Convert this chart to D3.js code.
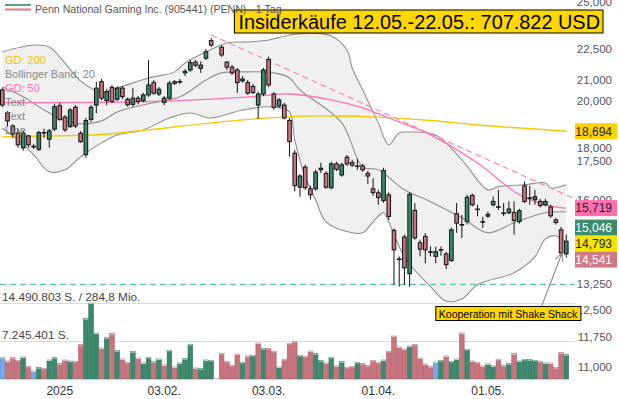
<!DOCTYPE html>
<html><head><meta charset="utf-8">
<script src="https://cdn.jsdelivr.net/npm/d3@7"></script>
<style>
html,body{margin:0;padding:0;background:#fff;}
svg{display:block;font-family:"Liberation Sans",Arial,sans-serif;}
</style></head><body>
<div id="chart"></div>
<script>
// penn national gaming, tageskerzen dez 2024 - 22.05.2025, log-skala, bollinger + GD 50/200 + volumen

// kurse pro handelstag (index 0 = 16.12.2024), null = feiertag
var opens = [20520,19480,18920,18620,18010,18500,18070,17950,18630,18360,
  18780,19800,19300,18890,19730,18610,17730,19200,19830,20900,
  20030,20640,20090,20600,20090,19860,20140,20030,20290,20860,
  20330,19950,20140,20900,20900,21320,21460,21840,21540,22040,
  22930,null,22590,21840,21600,21460,20940,20860,20680,19830,
  20330,21980,20330,19790,19830,19150,17790,16480,17240,16420,
  16420,17140,17000,16460,17370,16940,17630,17420,17290,17290,
  17000,16420,16270,15990,16200,14950,14020,14730,13560,15640,
  14540,14750,14250,14100,14320,14180,13970,15520,15150,15250,
  16180,15690,15250,15440,15840,15770,15550,15560,15570,15250,
  16530,16090,16020,15960,15840,15760,15310,14970,14180];
var highs = [20620,19560,18990,18790,18710,18540,18170,18710,18800,18790,
  19890,19930,19390,19700,19830,18700,19260,19830,20900,21030,
  20560,20740,20690,20700,20170,20600,20240,20380,21950,20980,
  20650,20240,20940,20980,21030,21510,21950,21950,21880,22500,
  23060,null,22700,21900,21700,21560,21170,20980,20800,20420,
  21560,22110,20420,20150,19930,19260,17920,16980,17330,16530,
  17140,17420,17090,17450,17450,17410,17720,17530,17560,17370,
  17090,16820,16380,17220,16290,15020,14100,14810,16290,15900,
  14640,14860,14420,14410,14420,14250,15040,15900,15480,16200,
  16240,15840,15420,15600,16140,16380,15900,15960,15960,15700,
  16690,16530,16380,16050,16050,15840,15380,15070,14810];
var lows = [19740,18900,18420,18010,17890,18010,17960,17880,18420,18010,
  18700,19140,18670,18830,18830,18210,17610,19080,19470,20050,
  19830,19920,20000,20100,19760,19760,19860,19950,20200,20290,
  20240,19830,20060,20750,20790,21170,21370,21600,21320,21950,
  22600,null,22100,21460,21220,20380,20860,20290,20330,19220,
  20240,20650,19610,19700,19200,17660,16320,16130,16380,16020,
  16350,17010,16420,16400,17090,16870,17290,17250,17140,17060,
  16600,16160,15840,15910,15310,13230,13170,13230,13170,14640,
  14100,13880,14100,13880,14120,13700,13930,14870,14700,15150,
  15780,15430,15030,15380,15780,15660,15440,15500,14810,15180,
  15900,15840,15840,15740,15780,15380,15150,14120,14060];
var closes = [19830,19135,18580,18130,18620,18130,18060,18640,18640,18710,
  19760,19200,18750,19610,18920,18260,19150,19730,20600,20140,
  20440,19990,20600,20210,19840,20140,19990,20290,20750,20370,
  20550,20140,20830,20830,20910,21390,21820,21690,21700,22360,
  22700,null,22200,21600,21320,20860,21030,20370,20400,20330,
  21460,20750,19730,20060,19260,18260,16540,16900,16460,16200,
  17050,17200,16480,17370,17160,17330,17370,17320,17280,17140,
  16900,16280,16100,17110,15430,14310,14010,13740,16220,14700,
  14330,14310,14240,14250,14310,13840,14970,15200,15130,16110,
  15840,15680,15240,15500,15960,15760,15540,15690,15290,15630,
  15960,16080,16130,15810,15960,15450,15220,14210,14590];

// volumen in mio. stueck, farbe: g=hoch, r=runter, b=unveraendert, n=feiertag
var volumes = [4.13,3.43,4.06,3.56,4.19,2.41,1.52,2.16,2.03,3.62,
  4.06,2.92,3.62,3.43,3.37,6.54,11.5,14.490803,8.76,5.9,
  7.87,8.64,5.4,3.81,3.18,5.21,4.0,3.05,4.13,3.3,
  3.81,2.67,5.46,2.29,3.05,3.87,6.6,2.1,1.97,3.62,
  3.56,0.15,4.89,3.37,2.6,4.76,3.18,4.38,4.51,6.86,
  5.78,5.84,5.27,2.29,3.75,6.8,7.18,4.51,4.32,5.33,
  4.83,3.49,3.05,4.13,2.48,3.3,2.22,2.41,3.18,2.92,
  2.54,3.56,3.18,3.62,5.27,8.19,6.1,5.72,6.29,6.6,
  4.0,2.86,2.35,3.24,3.56,4.38,3.37,3.81,8.76,5.65,
  3.43,3.18,2.48,2.86,2.48,3.75,2.54,2.92,4.83,3.43,
  3.75,3.68,3.56,3.37,3.05,3.05,2.16,5.02,4.64];
var volColors = ("brrrgrbgrg" + "grrgrrgggr" + "grgrrgrggr" + "grgrgggrgg" + "gnrrrrgrgr" +
  "grrgrrrgrr" + "ggrgrgrrgr" + "rrrgrrrrgr" + "rrrbgrggrg" + "rrrggrrgrg" + "gggrgrrrg").split("");

var bbUpper = [[0,22350],[6,22700],[9,22600],[12,21800],[15,20930],[19,20420],[22,20610],[28,21080],
  [33,21370],[35,21800],[39,22350],[43,22810],[47,22860],[51,22960],[55,23220],[59,23320],[63,23170],
  [66,22450],[67,21560],[69,20520],[72,19050],[74,18130],[76,18620],[78,18660],[83,18540],[88,17530],
  [93,16380],[95,16500],[100,16570],[104,16640],[105,16450],[108,16570]];
var bbMid = [[0,20650],[4,20200],[8,19613],[12,19135],[15,19010],[19,19135],[22,19520],[27,19840],
  [34,20200],[39,20984],[42,21320],[46,21370],[52,21320],[55,21080],[57,20520],[65,19050],[69,17250],
  [72,17136],[77,16382],[82,15950],[88,15380],[93,14870],[98,15210],[104,15560],[108,15590]];
var bbLower = [[0,18830],[3,18333],[6,17730],[9,17060],[12,17136],[15,17650],[19,18210],[22,18540],
  [27,18750],[32,19260],[36,19480],[40,19260],[46,19613],[52,19745],[55,19520],[56,18333],[58,16870],
  [60,16018],[62,15240],[67,14870],[69,14870],[71,15240],[73,15560],[74,15240],[77,14090],[82,13170],
  [85,12750],[88,12810],[91,13230],[98,13590],[102,14090],[104,14670],[106,14770],[108,14540]];
var gd50 = [[0,19940],[28,19985],[40,20100],[48,20210],[55,20330],[63,20060],[69,19700],[74,19260],
  [82,18540],[91,17400],[99,16200],[104,15840],[108,15719]];
var gd200 = [[0,18470],[19,18560],[28,18750],[40,19050],[55,19320],[63,19350],[72,19300],[82,19150],
  [91,18960],[108,18694]];

var trendLine = [[40,23220],[110,16018]];
var supportLevel = 13240;

var priceTicks = [25000,22500,21000,20000,18000,17500,16000,14000,13250,12500,11750,11000];
var dateIdx = [11,31,51,72,93];
var dateLabels = ["2025","03.02.","03.03.","01.04.","01.05."];

var valueLabels = [18694,15719,15046,14793,14541];
var valueColors = ["#ffd200","#ff6fb1","#3d8b6d","#f3e600","#cf7a84"];
var valueText = ["#222","#222","#fff","#222","#fff"];

var legendTexts = ["GD: 200","Bollinger Band: 20","GD: 50","Text","Text","Line"];
var legendColors = ["#f0c400","#8a8a8a","#ff6fb4","#707070","#707070","#707070"];

var W = 619, H = 399;
var svg = d3.select("#chart").append("svg").attr("width", W).attr("height", H);

var x = d3.scaleLinear().domain([0, 108]).range([2.3, 566.3]);
var y = d3.scaleLog().domain([22500, 13250]).range([49, 284]);
var yv = d3.scaleLinear().domain([0, 14.490803]).range([379, 303]);

var plot = svg.append("g");

var line = d3.line().x(function (d) { return x(d[0]); }).y(function (d) { return y(d[1]); })
  .curve(d3.curveCatmullRom.alpha(0.5));

// bollinger flaeche: oben vorwaerts, unten rueckwaerts
var up = line(bbUpper);
var lo = line(bbLower.slice().reverse());
plot.append("path").attr("d", up + "L" + lo.slice(1) + "Z").attr("fill", "#f0f0f0");
[bbUpper, bbMid, bbLower].forEach(function (b) {
  plot.append("path").attr("d", line(b)).attr("fill", "none").attr("stroke", "#8e8e8e").attr("stroke-width", 1.1);
});
plot.append("path").attr("d", line(gd200)).attr("fill", "none").attr("stroke", "#f5c800").attr("stroke-width", 1.4);
plot.append("path").attr("d", line(gd50)).attr("fill", "none").attr("stroke", "#ff70b8").attr("stroke-width", 1.3);

// trendlinie + unterstuetzung
plot.append("line")
  .attr("x1", x(trendLine[0][0])).attr("y1", y(trendLine[0][1]))
  .attr("x2", x(trendLine[1][0])).attr("y2", y(trendLine[1][1]))
  .attr("stroke", "#ff80c0").attr("stroke-width", 1.2).attr("stroke-dasharray", "6,4");
plot.append("line").attr("x1", 0).attr("x2", 575).attr("y1", y(supportLevel)).attr("y2", y(supportLevel))
  .attr("stroke", "#5dc9a0").attr("stroke-width", 1.1).attr("stroke-dasharray", "6,4");

// volumen gitter
[14.490803, 7.245401].forEach(function (v) {
  plot.append("line").attr("x1", 0).attr("x2", 575).attr("y1", Math.round(yv(v)) + 0.5).attr("y2", Math.round(yv(v)) + 0.5)
    .attr("stroke", "#dcdcdc");
});

// kerzen
var idx = d3.range(opens.length).filter(function (i) { return opens[i] !== null; });
var cg = plot.append("g");
cg.selectAll("line").data(idx).enter().append("line")
  .attr("x1", function (i) { return x(i); }).attr("x2", function (i) { return x(i); })
  .attr("y1", function (i) { return y(highs[i]); }).attr("y2", function (i) { return y(lows[i]); })
  .attr("stroke", "#111").attr("stroke-width", 1);
cg.selectAll("rect").data(idx).enter().append("rect")
  .attr("x", function (i) { return x(i) - 1.8; }).attr("width", 3.6)
  .attr("y", function (i) { return y(Math.max(opens[i], closes[i])); })
  .attr("height", function (i) { return Math.max(0.6, Math.abs(y(opens[i]) - y(closes[i]))); })
  .attr("fill", function (i) { return closes[i] >= opens[i] ? "#3a8a6a" : "#c9737e"; })
  .attr("stroke", "#111").attr("stroke-width", 1);

// volumenbalken
var vFill = { g: "#3b8a6b", r: "#c8737e", b: "#7ba7e8", n: "#c8c8c8" };
var vEdge = { g: "#2c6e55", r: "#a85b65", b: "#5c88cc", n: "#aaa" };
var vTop = { g: "#b5dccb", r: "#efc3c8", b: "#c4d8f6", n: "#ddd" };
var vg = plot.append("g");
volumes.forEach(function (v, i) {
  var c = volColors[i];
  var top = yv(v);
  vg.append("rect").attr("x", x(i) - 2.3).attr("width", 4.6).attr("y", top).attr("height", 379 - top)
    .attr("fill", vFill[c]).attr("stroke", vEdge[c]).attr("stroke-width", 0.6);
  vg.append("line").attr("x1", x(i) - 2.3).attr("x2", x(i) + 2.3).attr("y1", top + 0.5).attr("y2", top + 0.5)
    .attr("stroke", vTop[c]).attr("stroke-width", 1);
});

svg.append("text").attr("x", 2).attr("y", 301).attr("font-size", 11.8).attr("fill", "#444")
  .text("14.490.803 S. / 284,8 Mio.");
svg.append("text").attr("x", 2).attr("y", 339).attr("font-size", 11.8).attr("fill", "#444")
  .text("7.245.401 S.");

// legende links
legendTexts.forEach(function (t, k) {
  svg.append("text").attr("x", 5).attr("y", 64 + k * 14).attr("font-size", 11).attr("fill", legendColors[k])
    .attr("opacity", k > 2 ? 0.85 : 1).text(t);
});

// datumsachse
svg.append("g").selectAll("text").data(dateIdx).enter().append("text")
  .attr("x", function (d) { return x(d); }).attr("y", 395).attr("text-anchor", "middle")
  .attr("font-size", 12).attr("fill", "#333")
  .text(function (d, k) { return dateLabels[k]; });

// kursachse rechts
var fmt = d3.format(",");
svg.append("g").selectAll("text").data(priceTicks).enter().append("text")
  .attr("x", 612).attr("y", function (d) { return y(d); }).attr("dy", "0.35em")
  .attr("text-anchor", "end").attr("font-size", 11.5).attr("fill", "#555")
  .text(function (d) { return fmt(d); });

// wert-marken, nach unten geschoben wenn sie sich ueberlappen
var marks = valueLabels.map(function (v, k) { return { v: v, k: k, y: y(v) }; })
  .sort(function (a, b) { return a.y - b.y; });
for (var m = 1; m < marks.length; m++) {
  if (marks[m].y - marks[m - 1].y < 16) marks[m].y = marks[m - 1].y + 16;
}
marks.forEach(function (d) {
  svg.append("rect").attr("x", 575).attr("y", d.y - 8).attr("width", 42).attr("height", 16)
    .attr("fill", valueColors[d.k]);
  svg.append("text").attr("x", 612).attr("y", d.y).attr("dy", "0.36em").attr("text-anchor", "end")
    .attr("font-size", 12).attr("fill", valueText[d.k]).text(fmt(d.v));
});

// insider-box
var ins = svg.append("g");
var it = ins.append("text").attr("x", 600).attr("y", 28.5).attr("text-anchor", "end")
  .attr("font-size", 19.9).attr("fill", "#000").text("Insiderkäufe 12.05.-22.05.: 707.822 USD");
var bb = it.node().getBBox();
ins.insert("rect", "text").attr("x", bb.x - 4).attr("y", 10).attr("width", bb.width + 7).attr("height", 23)
  .attr("fill", "#ffd700").attr("stroke", "#000").attr("stroke-width", 1);

// kopfzeile (liegt ueber der box)
svg.append("line").attr("x1", 5).attr("x2", 31).attr("y1", 5).attr("y2", 5).attr("stroke", "#5aa58a").attr("stroke-width", 2);
svg.append("line").attr("x1", 5).attr("x2", 31).attr("y1", 9.5).attr("y2", 9.5).attr("stroke", "#e07c84").attr("stroke-width", 2);
svg.append("text").attr("x", 35).attr("y", 12.5).attr("font-size", 10.6).attr("fill", "#555")
  .text("Penn National Gaming Inc. (905441) (PENN) - 1 Tag");

// notiz mit pfeil auf die kerze
var tip = [x(107) + 1, y(closes[107])];
var foot = [541.5, 306.5];
var ang = Math.atan2(foot[1] - tip[1], foot[0] - tip[0]);
svg.append("line").attr("x1", foot[0]).attr("y1", foot[1]).attr("x2", tip[0]).attr("y2", tip[1])
  .attr("stroke", "#8a8a8a").attr("stroke-width", 1.1);
[-0.45, 0.45].forEach(function (a) {
  svg.append("line").attr("x1", tip[0]).attr("y1", tip[1])
    .attr("x2", tip[0] + 9 * Math.cos(ang + a)).attr("y2", tip[1] + 9 * Math.sin(ang + a))
    .attr("stroke", "#8a8a8a").attr("stroke-width", 1.1);
});
var an = svg.append("g");
var at = an.append("text").attr("x", 508).attr("y", 317.5).attr("text-anchor", "middle")
  .attr("font-size", 10.5).attr("fill", "#000").text("Kooperation mit Shake Shack");
var ab = at.node().getBBox();
an.insert("rect", "text").attr("x", ab.x - 3).attr("y", 306.5).attr("width", ab.width + 6).attr("height", 14)
  .attr("fill", "#ffd700").attr("stroke", "#000").attr("stroke-width", 1);
</script>
</body></html>
